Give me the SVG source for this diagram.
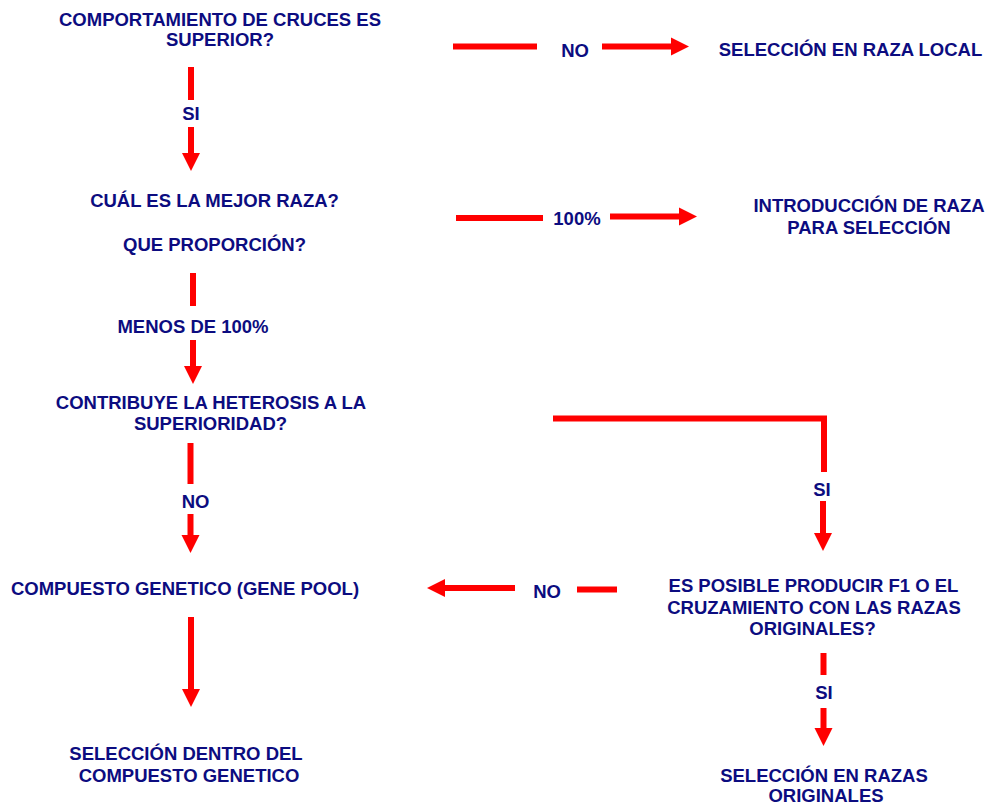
<svg xmlns="http://www.w3.org/2000/svg" width="988" height="806" viewBox="0 0 988 806">
<style>
text{font-family:"Liberation Sans",Arial,sans-serif;font-weight:bold;font-size:18.5px;fill:#0c0c80;text-anchor:middle}
.c{fill:none;stroke:#ff0000;stroke-width:6;stroke-linecap:butt;stroke-linejoin:miter}
</style>
<defs>
<marker id="ah" markerUnits="userSpaceOnUse" markerWidth="18" markerHeight="18" refX="0" refY="9" orient="auto" overflow="visible">
<path d="M0,0 L18,9 L0,18 z" fill="#ff0000"/>
</marker>
</defs>
<rect width="988" height="806" fill="#ffffff"/>
<g id="n1"><text x="220" y="25.5">COMPORTAMIENTO DE CRUCES ES</text><text x="220" y="45.5">SUPERIOR?</text></g>
<g id="n2"><text x="850.5" y="56">SELECCIÓN EN RAZA LOCAL</text></g>
<g id="n3"><text x="214.5" y="207">CUÁL ES LA MEJOR RAZA?</text><text x="214.5" y="250.5">QUE PROPORCIÓN?</text></g>
<g id="n4"><text x="869" y="212">INTRODUCCIÓN DE RAZA</text><text x="869" y="234">PARA SELECCIÓN</text></g>
<g id="n5"><text x="211" y="409">CONTRIBUYE LA HETEROSIS A LA</text><text x="210.5" y="430">SUPERIORIDAD?</text></g>
<g id="n6"><text x="185" y="595">COMPUESTO GENETICO (GENE POOL)</text></g>
<g id="n7"><text x="813.5" y="592">ES POSIBLE PRODUCIR F1 O EL</text><text x="814" y="614">CRUZAMIENTO CON LAS RAZAS</text><text x="812.5" y="635">ORIGINALES?</text></g>
<g id="n8"><text x="186" y="760">SELECCIÓN DENTRO DEL</text><text x="189" y="781.5">COMPUESTO GENETICO</text></g>
<g id="n9"><text x="824" y="781.5">SELECCIÓN EN RAZAS</text><text x="826" y="801.5">ORIGINALES</text></g>
<g id="connectors">
<path class="c" d="M191,67 V100"/>
<path class="c" d="M191,127 V153" marker-end="url(#ah)"/>
<text x="191" y="120">SI</text>
<path class="c" d="M453,46.5 H537"/>
<path class="c" d="M602,46.5 H671" marker-end="url(#ah)"/>
<text x="575" y="57">NO</text>
<path class="c" d="M456,218 H543"/>
<path class="c" d="M610,216.5 H679" marker-end="url(#ah)"/>
<text x="577" y="225">100%</text>
<path class="c" d="M193,273 V306"/>
<path class="c" d="M193,340 V366" marker-end="url(#ah)"/>
<text x="193" y="333">MENOS DE 100%</text>
<path class="c" d="M190.5,443 V484"/>
<path class="c" d="M190.5,514 V535" marker-end="url(#ah)"/>
<text x="195.5" y="508">NO</text>
<path class="c" d="M553,418.5 H824 V472"/>
<path class="c" d="M823,501 V533" marker-end="url(#ah)"/>
<text x="822" y="496">SI</text>
<path class="c" d="M617,589.5 H577"/>
<path class="c" d="M515,588 H445" marker-end="url(#ah)"/>
<text x="547" y="597.5">NO</text>
<path class="c" d="M191,617 V689" marker-end="url(#ah)"/>
<path class="c" d="M823.5,653 V675"/>
<path class="c" d="M823.5,708 V728" marker-end="url(#ah)"/>
<text x="824" y="699">SI</text>
</g>
</svg>
